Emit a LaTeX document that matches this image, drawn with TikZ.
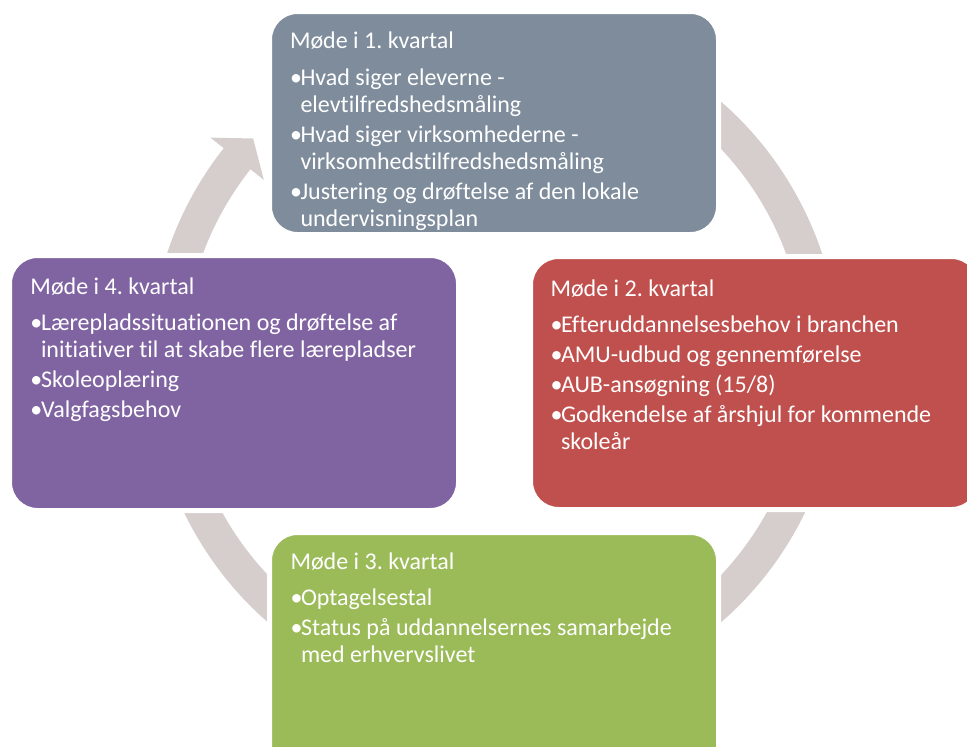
\documentclass[tikz,border=0pt]{standalone}
\usepackage{fontspec}
\setmainfont[Ligatures={NoCommon}]{Carlito}
\frenchspacing
\usetikzlibrary{calc}
\definecolor{topc}{HTML}{7E8C9C}
\definecolor{redc}{HTML}{C0504D}
\definecolor{purc}{HTML}{8064A2}
\definecolor{grnc}{HTML}{9BBB59}
\definecolor{ringc}{HTML}{D6CDCD}
\newcommand{\bul}{\par\hangindent=10.5pt\hangafter=1\noindent\makebox[10.5pt][l]{\char"2022}}
\newcommand{\nl}{\hfill\break}
\newcommand{\ttl}[1]{\spaceskip=0pt\xspaceskip=0pt\setlength{\parskip}{3pt}\rule{0pt}{20pt}#1\par\vspace{6.5pt}}
\tikzset{
  box/.style={rectangle, rounded corners=28pt, draw=white, line width=5pt, outer sep=0pt, anchor=north west, minimum width=449pt},
  txt/.style={anchor=north west, inner sep=0pt, outer sep=0pt, text=white, text width=430pt, align=left, font=\fontsize{24}{27}\selectfont\frenchspacing}
}
\begin{document}
\begin{tikzpicture}[x=1pt,y=1pt]
\useasboundingbox (0,0) rectangle (967,-747);
\clip (0,0) rectangle (967,-747);
\fill[white] (0,0) rectangle (967,-747);
% circular arrow
\coordinate (c) at (494.5,-362);
\fill[ringc] ($(c)+(120:345)$) arc[start angle=120, end angle=-218.3, radius=345]
  -- ($(c)+(-218.3:362)$) -- ($(c)+(-222.8:329)$) -- ($(c)+(-218.3:294)$)
  -- ($(c)+(-218.3:311)$) arc[start angle=-218.3, end angle=120, radius=311] -- cycle;
% boxes
\node[box, fill=topc, minimum height=223pt] (b1) at (269.5,-11.5) {};
\node[box, fill=redc, minimum height=253pt] (b2) at (530.5,-256.5) {};
\node[box, fill=grnc, minimum height=253pt] (b3) at (269.5,-532.5) {};
\node[box, fill=purc, minimum height=255pt] (b4) at (9.5,-255.5) {};
% texts
\node[txt] (t1) at (290,-28.5) {\ttl{Møde i 1. kvartal}%
\bul Hvad siger eleverne -\nl elevtilfredshedsmåling
\bul Hvad siger virksomhederne -\nl virksomhedstilfredshedsmåling
\bul Justering og drøftelse af den lokale\nl undervisningsplan\par};
\node[txt] (t2) at (550.5,-276) {\ttl{Møde i 2. kvartal}%
\bul Efteruddannelsesbehov i branchen
\bul AMU-udbud og gennemførelse
\bul AUB-ansøgning (15/8)
\bul Godkendelse af årshjul for kommende\nl skoleår\par};
\node[txt] (t3) at (290.5,-549) {\ttl{Møde i 3. kvartal}%
\bul Optagelsestal
\bul Status på uddannelsernes samarbejde\nl med erhvervslivet\par};
\node[txt] (t4) at (30.5,-274) {\ttl{Møde i 4. kvartal}%
\bul Lærepladssituationen og drøftelse af\nl initiativer til at skabe flere lærepladser
\bul Skoleoplæring
\bul Valgfagsbehov\par};
\end{tikzpicture}
\end{document}
